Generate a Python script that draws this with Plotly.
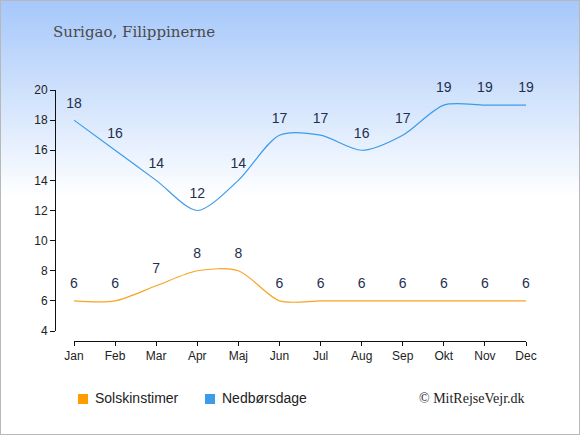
import plotly.graph_objects as go

W, H = 580, 435

months = ["Jan", "Feb", "Mar", "Apr", "Maj", "Jun", "Jul", "Aug", "Sep", "Okt", "Nov", "Dec"]
sun_hours = [6, 6, 7, 8, 8, 6, 6, 6, 6, 6, 6, 6]
rain_days = [18, 16, 14, 12, 14, 17, 17, 16, 17, 19, 19, 19]

sun_color = "#ff9c00"
rain_color = "#3d9be9"
label_color = "#1e2f4f"


def px(x):
    return x / W


def py(y):
    return 1 - y / H


fig = go.Figure()

# invisible markers push the value labels up off the line
fig.add_trace(go.Scatter(
    x=months, y=rain_days, mode="lines+markers+text", text=[str(v) for v in rain_days],
    textposition="top center", textfont=dict(size=14, color=label_color, family="Arial, Liberation Sans"),
    line=dict(color=rain_color, width=1.2, shape="spline", smoothing=0.8),
    marker=dict(size=13, opacity=0),
    hoverinfo="skip", showlegend=False, cliponaxis=False))

fig.add_trace(go.Scatter(
    x=months, y=sun_hours, mode="lines+markers+text", text=[str(v) for v in sun_hours],
    textposition="top center", textfont=dict(size=14, color=label_color, family="Arial, Liberation Sans"),
    line=dict(color="#f7a324", width=1.2, shape="spline", smoothing=0.8),
    marker=dict(size=13, opacity=0),
    hoverinfo="skip", showlegend=False, cliponaxis=False))

shapes = []
# background gradient, top blue fading to white
top = (166, 200, 250)
n = 50
grad_h = 200
for i in range(n):
    t = i / (n - 1)
    c = tuple(round(top[k] + (255 - top[k]) * t) for k in range(3))
    shapes.append(dict(type="rect", xref="paper", yref="paper",
                       x0=0, x1=1, y0=py(i * grad_h / n + grad_h / n + 0.5), y1=py(i * grad_h / n),
                       fillcolor="rgb(%d,%d,%d)" % c, line=dict(width=0), layer="below"))
# border
shapes.append(dict(type="rect", xref="paper", yref="paper", x0=0, x1=1, y0=0, y1=1,
                   line=dict(color="#b8b8b8", width=2), layer="above"))
# legend squares
shapes.append(dict(type="rect", xref="paper", yref="paper", x0=px(78), x1=px(88), y0=py(404), y1=py(394),
                   fillcolor=sun_color, line=dict(width=0)))
shapes.append(dict(type="rect", xref="paper", yref="paper", x0=px(205), x1=px(215), y0=py(404), y1=py(394),
                   fillcolor=rain_color, line=dict(width=0)))

annotations = [
    dict(text="Surigao, Filippinerne", x=px(51), y=py(32), xref="paper", yref="paper",
         xanchor="left", yanchor="middle", showarrow=False,
         font=dict(family="DejaVu Serif", size=15, color="#4a4a4a")),
    dict(text="Solskinstimer", x=px(93), y=py(398), xref="paper", yref="paper",
         xanchor="left", yanchor="middle", showarrow=False,
         font=dict(family="Arial, Liberation Sans", size=14, color="#222")),
    dict(text="Nedbørsdage", x=px(220), y=py(398), xref="paper", yref="paper",
         xanchor="left", yanchor="middle", showarrow=False,
         font=dict(family="Arial, Liberation Sans", size=14, color="#222")),
    dict(text="© MitRejseVejr.dk", x=px(527), y=py(398), xref="paper", yref="paper",
         xanchor="right", yanchor="middle", showarrow=False,
         font=dict(family="Liberation Serif", size=14, color="#222")),
]

fig.update_layout(
    width=W, height=H,
    margin=dict(l=0, r=0, t=0, b=0),
    paper_bgcolor="white", plot_bgcolor="rgba(0,0,0,0)",
    shapes=shapes, annotations=annotations,
    xaxis=dict(domain=[px(74), px(526)], range=[0, 11], anchor="free", position=py(341),
               automargin=False,
               showgrid=False, zeroline=False, showline=True, linecolor="#111", linewidth=1,
               ticks="outside", ticklen=4, tickcolor="#111",
               tickfont=dict(family="Arial, Liberation Sans", size=12, color="#222"),
               type="category", fixedrange=True),
    yaxis=dict(domain=[py(331), py(90)], range=[4, 20], anchor="free", position=px(55),
               automargin=False,
               showgrid=False, zeroline=False, showline=True, linecolor="#111", linewidth=1,
               ticks="outside", ticklen=5, tickcolor="#111", dtick=2,
               tickfont=dict(family="Arial, Liberation Sans", size=12, color="#222"),
               fixedrange=True),
)

fig.write_html("out.html", config={"displayModeBar": False},
               post_script="document.body.style.margin='0';document.body.style.overflow='hidden';")
